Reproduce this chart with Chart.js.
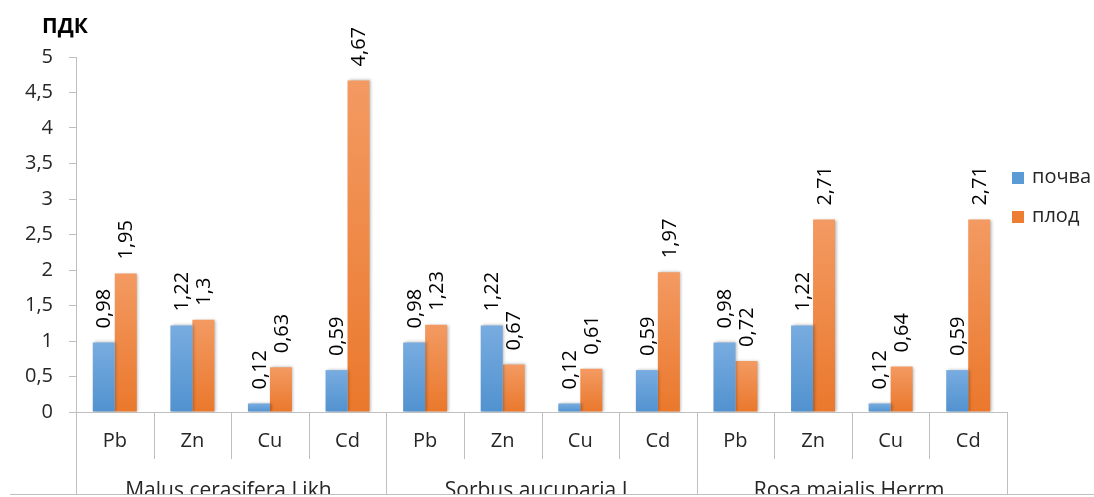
<!DOCTYPE html>
<html>
<head>
<meta charset="utf-8">
<script src="https://cdn.jsdelivr.net/npm/chart.js@4.4.1/dist/chart.umd.min.js"></script>
<style>
  html, body { margin: 0; padding: 0; background: #fff; }
  #wrap { width: 1094px; height: 497px; position: relative; }
</style>
</head>
<body>
<div id="wrap"><canvas id="c" width="1094" height="497"></canvas></div>
<script>
// Heavy metals, expressed in ПДК units, in soil (почва) and fruit (плод)
const elements = ['Pb', 'Zn', 'Cu', 'Cd'];
const species = ['Malus cerasifera Likh.', 'Sorbus aucuparia L.', 'Rosa majalis Herrm.'];
const categories = ['Pb', 'Zn', 'Cu', 'Cd', 'Pb', 'Zn', 'Cu', 'Cd', 'Pb', 'Zn', 'Cu', 'Cd'];
const soilValues = [0.98, 1.22, 0.12, 0.59, 0.98, 1.22, 0.12, 0.59, 0.98, 1.22, 0.12, 0.59];
const fruitValues = [1.95, 1.3, 0.63, 4.67, 1.23, 0.67, 0.61, 1.97, 0.72, 2.71, 0.64, 2.71];
const seriesNames = ['почва', 'плод'];
const yTicks = [0, 0.5, 1, 1.5, 2, 2.5, 3, 3.5, 4, 4.5, 5];

const FONT = '"Open Sans", "Liberation Sans", sans-serif';
const TEXT = '#262626';
const LINE = '#bfbfbf';

function fmt(v) { return String(v).replace('.', ','); }

// vertical gradient per bar, lighter at the top
function barFill(top, bottom) {
  return function (ctx) {
    const chart = ctx.chart;
    const ys = chart.scales.y;
    if (!chart.chartArea || !ys || ctx.parsed === undefined) return bottom;
    const yTop = ys.getPixelForValue(ctx.parsed.y);
    const yBase = ys.getPixelForValue(0);
    if (!isFinite(yTop) || yTop === yBase) return bottom;
    const g = chart.ctx.createLinearGradient(0, yTop, 0, yBase);
    g.addColorStop(0, top);
    g.addColorStop(1, bottom);
    return g;
  };
}

const solidColors = ['#5b9bd5', '#ed7d31'];

const barShadow = {
  id: 'barShadow',
  beforeDatasetsDraw(chart) {
    const c = chart.ctx;
    c.save();
    c.shadowColor = 'rgba(0,0,0,0.3)';
    c.shadowBlur = 3;
    c.shadowOffsetX = 1.5;
    c.shadowOffsetY = 0;
  },
  afterDatasetsDraw(chart) { chart.ctx.restore(); }
};

const valueLabels = {
  id: 'valueLabels',
  afterDatasetsDraw(chart) {
    const c = chart.ctx;
    c.save();
    c.font = '20px ' + FONT;
    c.fillStyle = '#000';
    c.textAlign = 'left';
    c.textBaseline = 'middle';
    chart.data.datasets.forEach((ds, di) => {
      chart.getDatasetMeta(di).data.forEach((bar, i) => {
        c.save();
        c.translate(bar.x + 1, bar.y - 14);
        c.rotate(-Math.PI / 2);
        c.fillText(fmt(ds.data[i]), 0, 0);
        c.restore();
      });
    });
    c.restore();
  }
};

const axisFrame = {
  id: 'axisFrame',
  afterDraw(chart) {
    const c = chart.ctx;
    const xs = chart.scales.x;
    const area = chart.chartArea;
    const y0 = area.bottom;
    const n = categories.length;
    const half = (xs.getPixelForValue(1) - xs.getPixelForValue(0)) / 2;
    c.save();
    c.strokeStyle = LINE;
    c.lineWidth = 1;
    for (let i = 0; i <= n; i++) {
      const x = Math.round(i < n ? xs.getPixelForValue(i) - half : xs.getPixelForValue(n - 1) + half) + 0.5;
      const isGroup = i % elements.length === 0;
      c.beginPath();
      c.moveTo(x, y0);
      c.lineTo(x, isGroup ? 494 : 459);
      c.stroke();
    }
    c.beginPath();
    c.moveTo(10, 494.5);
    c.lineTo(1094, 494.5);
    c.stroke();

    // species names under each group of four elements
    c.beginPath();
    c.rect(0, 0, 1094, 494);
    c.clip();
    c.font = '21px ' + FONT;
    c.fillStyle = TEXT;
    c.textAlign = 'center';
    c.textBaseline = 'alphabetic';
    species.forEach((name, g) => {
      const a = xs.getPixelForValue(g * 4) - half;
      const b = xs.getPixelForValue(g * 4 + 3) + half;
      c.fillText(name, (a + b) / 2, 497);
    });
    c.restore();

    // axis unit
    c.save();
    c.font = 'bold 21px ' + FONT;
    c.fillStyle = '#000';
    c.textAlign = 'left';
    c.textBaseline = 'alphabetic';
    c.fillText('ПДК', 42, 33);
    c.restore();

    // legend
    c.save();
    c.font = '20px ' + FONT;
    c.textAlign = 'left';
    c.textBaseline = 'middle';
    const ly = [178, 217];
    seriesNames.forEach((name, i) => {
      c.fillStyle = solidColors[i];
      c.fillRect(1012, ly[i] - 6, 12, 12);
      c.fillStyle = TEXT;
      c.fillText(name, 1032, ly[i] - 1);
    });
    c.restore();
  }
};

new Chart(document.getElementById('c'), {
  type: 'bar',
  data: {
    labels: categories,
    datasets: [
      {
        label: seriesNames[0],
        data: soilValues,
        backgroundColor: barFill('#78ace0', '#5192cf'),
        borderWidth: 0,
        barPercentage: 1.0,
        categoryPercentage: 0.567
      },
      {
        label: seriesNames[1],
        data: fruitValues,
        backgroundColor: barFill('#f39a62', '#ea782c'),
        borderWidth: 0,
        barPercentage: 1.0,
        categoryPercentage: 0.567
      }
    ]
  },
  options: {
    responsive: false,
    animation: false,
    devicePixelRatio: 1,
    layout: { padding: { left: 0, right: 87, top: 57, bottom: 0 } },
    plugins: {
      legend: { display: false },
      tooltip: { enabled: false },
      title: { display: false }
    },
    scales: {
      x: {
        grid: { display: false, drawTicks: false },
        border: { display: true, color: LINE, width: 1 },
        ticks: {
          font: { family: FONT, size: 20 },
          color: TEXT,
          padding: 17,
          autoSkip: false,
          maxRotation: 0
        },
        afterFit(scale) { scale.height = 85; }
      },
      y: {
        min: 0,
        max: 5,
        afterBuildTicks(scale) { scale.ticks = yTicks.map(v => ({ value: v })); },
        grid: { drawOnChartArea: false, drawTicks: true, tickLength: 7, color: LINE },
        border: { display: true, color: LINE, width: 1 },
        ticks: {
          font: { family: FONT, size: 20 },
          color: TEXT,
          padding: 16,
          callback: v => fmt(v)
        },
        afterFit(scale) { scale.width = 76; }
      }
    }
  },
  plugins: [barShadow, valueLabels, axisFrame]
});
</script>
</body>
</html>
